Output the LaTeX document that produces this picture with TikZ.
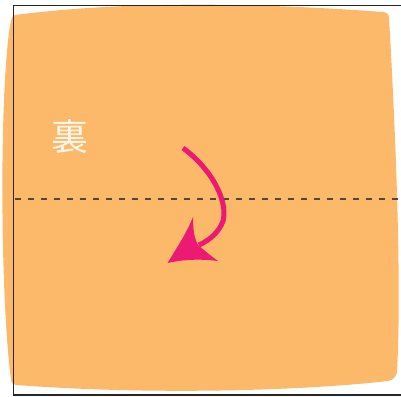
\documentclass[tikz,border=0pt]{standalone}
\usepackage{fontspec}
\newfontfamily\cjk{Noto Sans CJK JP}
\definecolor{paper}{RGB}{252,185,106}
\definecolor{arrowpink}{RGB}{236,26,114}
\definecolor{dashgray}{RGB}{80,72,62}
\definecolor{textcream}{RGB}{255,246,234}
\tikzset{
  foldline/.style={draw=dashgray,line width=2bp,dash pattern=on 6bp off 7bp},
  framelines/.style={draw=black!85,line width=1.5bp},
  arrowshaft/.style={draw=arrowpink,line width=5bp},
  arrowheadfill/.style={fill=arrowpink,draw=none},
}
\begin{document}
\begin{tikzpicture}[x=1bp,y=-1bp]
\useasboundingbox (0,0) rectangle (401,397);
% paper
\fill[paper] (15,15) .. controls (100,4) and (220,0) .. (383,12)
  .. controls (387,12.5) and (389,14) .. (389,18)
  .. controls (395,120) and (402,280) .. (397,372)
  .. controls (396,377) and (393,380) .. (388,381)
  .. controls (300,391) and (150,395) .. (16,385)
  .. controls (13,384.5) and (11,383) .. (11,379)
  .. controls (0,300) and (-1,80) .. (11,21)
  .. controls (12,17) and (13,15.5) .. (15,15) -- cycle;
% frame
\draw[framelines] (402,5.5) -- (13.5,5.5) -- (13.5,395) -- (402,395);
% fold line
\coordinate (foldL) at (14.5,198.5);
\coordinate (foldR) at (401,198.5);
\draw[foldline] (foldL) -- (foldR);
% label
\node[text=textcream,font=\cjk\fontsize{37}{37}\selectfont,inner sep=0pt] (ura) at (69.5,136) {裏};
% arrow
\coordinate (arrStart) at (183,148);
\coordinate (arrEnd) at (199,245);
\draw[arrowshaft] (arrStart) .. controls (214,171) and (228,203) .. (223,221)
  .. controls (219,232) and (210,240) .. (arrEnd);
\coordinate (tip) at (167.5,263);
\fill[arrowheadfill] (tip) .. controls (178,246) and (187,232) .. (193,217)
  .. controls (193,228) and (194,238) .. (198,245)
  .. controls (204,250) and (211,256) .. (218,261)
  .. controls (203,259) and (185,259) .. (tip) -- cycle;
\end{tikzpicture}
\end{document}
